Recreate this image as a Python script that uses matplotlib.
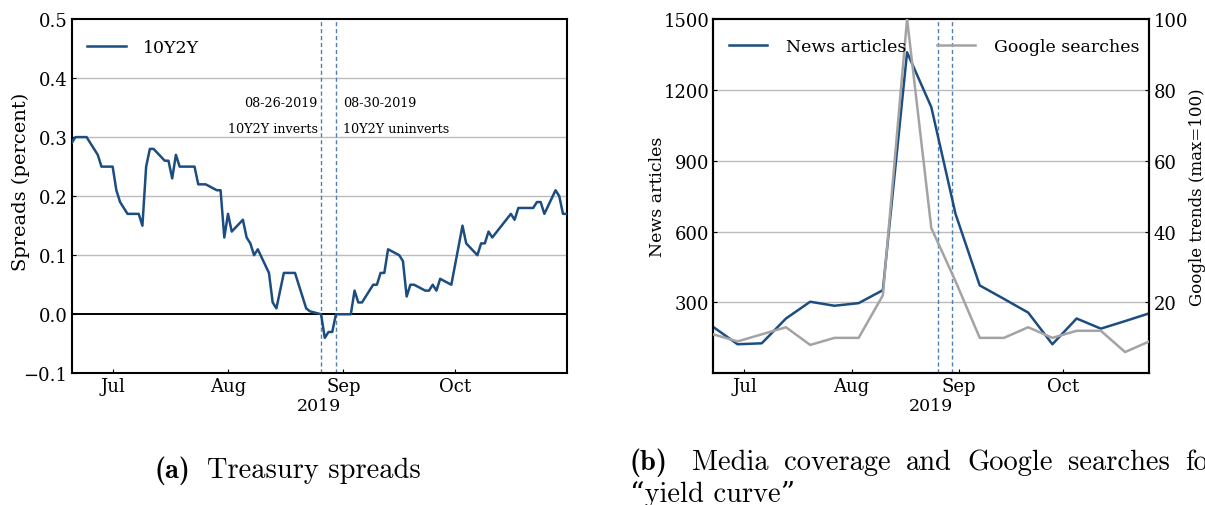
import matplotlib
matplotlib.use('Agg')
import matplotlib.pyplot as plt
import matplotlib.dates as mdates
import numpy as np
import pandas as pd

# 10Y2Y Treasury spread (percent), daily
spread_dates = ['2019-06-20', '2019-06-21', '2019-06-24', '2019-06-25', '2019-06-26',
                '2019-06-27', '2019-06-28', '2019-07-01', '2019-07-02', '2019-07-03',
                '2019-07-05', '2019-07-08', '2019-07-09', '2019-07-10', '2019-07-11',
                '2019-07-12', '2019-07-15', '2019-07-16', '2019-07-17', '2019-07-18',
                '2019-07-19', '2019-07-22', '2019-07-23', '2019-07-24', '2019-07-25',
                '2019-07-26', '2019-07-29', '2019-07-30', '2019-07-31', '2019-08-01',
                '2019-08-02', '2019-08-05', '2019-08-06', '2019-08-07', '2019-08-08',
                '2019-08-09', '2019-08-12', '2019-08-13', '2019-08-14', '2019-08-16',
                '2019-08-19', '2019-08-22', '2019-08-23', '2019-08-26', '2019-08-27',
                '2019-08-28', '2019-08-29', '2019-08-30', '2019-09-03', '2019-09-04',
                '2019-09-05', '2019-09-06', '2019-09-09', '2019-09-10', '2019-09-11',
                '2019-09-12', '2019-09-13', '2019-09-16', '2019-09-17', '2019-09-18',
                '2019-09-19', '2019-09-20', '2019-09-23', '2019-09-24', '2019-09-25',
                '2019-09-26', '2019-09-27', '2019-09-30', '2019-10-03', '2019-10-04',
                '2019-10-07', '2019-10-08', '2019-10-09', '2019-10-10', '2019-10-11',
                '2019-10-16', '2019-10-17', '2019-10-18', '2019-10-21', '2019-10-22',
                '2019-10-23', '2019-10-24', '2019-10-25', '2019-10-28', '2019-10-29',
                '2019-10-30', '2019-10-31']
spread_vals = [0.29, 0.30, 0.30, 0.29, 0.28,
               0.27, 0.25, 0.25, 0.21, 0.19,
               0.17, 0.17, 0.15, 0.25, 0.28,
               0.28, 0.26, 0.26, 0.23, 0.27,
               0.25, 0.25, 0.25, 0.22, 0.22,
               0.22, 0.21, 0.21, 0.13, 0.17,
               0.14, 0.16, 0.13, 0.12, 0.10,
               0.11, 0.07, 0.02, 0.01, 0.07,
               0.07, 0.01, 0.005, 0.00, -0.04,
               -0.03, -0.03, 0.00, 0.00, 0.04,
               0.02, 0.02, 0.05, 0.05, 0.07,
               0.07, 0.11, 0.10, 0.09, 0.03,
               0.05, 0.05, 0.04, 0.04, 0.05,
               0.04, 0.06, 0.05, 0.15, 0.12,
               0.10, 0.12, 0.12, 0.14, 0.13,
               0.17, 0.16, 0.18, 0.18, 0.18,
               0.19, 0.19, 0.17, 0.21, 0.20,
               0.17, 0.17]

# weekly media coverage and search interest
week_dates = pd.date_range('2019-06-22', periods=19, freq='7D')
news_articles = [196, 123, 127, 232, 303, 286, 297, 352, 1359, 1127,
                 675, 372, 315, 257, 123, 232, 189, 221, 254]
google_searches = [11, 9, 11, 13, 8, 10, 10, 22, 100, 41,
                   26, 10, 10, 13, 10, 12, 12, 6, 9]

event_dates = ['2019-08-26', '2019-08-30']
event_labels = [('08-26-2019', '10Y2Y inverts'), ('08-30-2019', '10Y2Y uninverts')]

blue = '#1c4d80'
gray = '#a3a3a3'
dash_col = '#4d7fb3'

plt.rcParams['font.family'] = ['DejaVu Serif']
plt.rcParams['axes.unicode_minus'] = True

W, H = 1205, 506
fig = plt.figure(figsize=(W / 100, H / 100), dpi=100)


def style_axes(ax):
    for sp in ax.spines.values():
        sp.set_linewidth(1.5)
        sp.set_color('black')
    ax.tick_params(direction='in', length=3, width=0.8, labelsize=13, pad=3)
    ax.xaxis.set_major_locator(mdates.MonthLocator())
    ax.xaxis.set_major_formatter(mdates.DateFormatter('%b'))
    ax.set_xlabel('2019', fontsize=12.5, labelpad=1)


# (a) spreads
s_dates = pd.to_datetime(spread_dates)
ev = pd.to_datetime(event_dates)

ax1 = fig.add_axes([71.7 / W, 1 - 374.3 / H, 495 / W, 354.3 / H])
style_axes(ax1)
ax1.set_ylim(-0.1, 0.5)
ax1.set_yticks(np.arange(-0.1, 0.51, 0.1))
ax1.set_yticklabels(['\u22120.1', '0.0', '0.1', '0.2', '0.3', '0.4', '0.5'])
ax1.set_xlim(s_dates[0], s_dates[-1])
for yv in [0.1, 0.2, 0.3, 0.4]:
    ax1.axhline(yv, color='#bcbcbc', lw=1.0, zorder=1)
ax1.axhline(0, color='black', lw=1.4, zorder=1)
ax1.plot(s_dates, spread_vals, color=blue, lw=1.8, label='10Y2Y', zorder=3)
for d in ev:
    ax1.axvline(d, color=dash_col, lw=1.0, ls=(0, (3, 2)), zorder=2)
ax1.set_ylabel('Spreads (percent)', fontsize=14)
ax1.yaxis.set_label_coords(-0.084, 0.543)
ax1.legend(loc='upper left', frameon=False, fontsize=12.5, handlelength=2.2,
           handletextpad=1.0, bbox_to_anchor=(0.0, 0.988))

for d, (l1, l2), ha, off in zip(ev, event_labels, ['right', 'left'], [-3.5, 7.5]):
    x = mdates.date2num(d) + off / 3.72
    ax1.text(x, 0.358, l1, ha=ha, va='center', fontsize=9.2)
    ax1.text(x, 0.315, l2, ha=ha, va='center', fontsize=9.2)

# (b) news articles and google trends
ax2 = fig.add_axes([713.3 / W, 1 - 374.3 / H, 436 / W, 354.3 / H])
style_axes(ax2)
ax2.set_ylim(0, 1500)
ax2.set_yticks([300, 600, 900, 1200, 1500])
ax2.set_xlim(week_dates[0], week_dates[-1])
for yv in [300, 600, 900, 1200]:
    ax2.axhline(yv, color='#bcbcbc', lw=1.0, zorder=1)
for d in ev:
    ax2.axvline(d, color=dash_col, lw=1.0, ls=(0, (3, 2)), zorder=2)
l_news, = ax2.plot(week_dates, news_articles, color=blue, lw=1.8, label='News articles', zorder=3)
ax2.set_ylabel('News articles', fontsize=12.5)
ax2.yaxis.set_label_coords(-0.108, 0.5)

ax3 = ax2.twinx()
for sp in ax3.spines.values():
    sp.set_linewidth(1.5)
ax3.set_ylim(0, 100)
ax3.set_yticks([20, 40, 60, 80, 100])
ax3.tick_params(direction='in', length=3, width=0.8, labelsize=13, pad=3)
l_goog, = ax3.plot(week_dates, google_searches, color=gray, lw=1.8, label='Google searches', zorder=3)
ax3.set_ylabel('Google trends (max=100)', fontsize=12, labelpad=1)
ax3.legend(handles=[l_news, l_goog], loc='upper left', ncol=2, frameon=False,
           fontsize=12.5, handlelength=2.2, handletextpad=1.1, columnspacing=1.75,
           bbox_to_anchor=(0.0, 0.99))

# captions
cm = ['cmr10', 'DejaVu Serif']
cmb = ['cmb10', 'DejaVu Serif']
cap_size = 20.5
base_a = 1 - 478 / H
fig.text(155 / W, base_a, '(a)', family=cmb, fontsize=cap_size, va='baseline')
fig.text(207 / W, base_a, 'Treasury spreads', family=cm, fontsize=cap_size, va='baseline')

base_b = 1 - 470 / H
fig.text(630 / W, base_b, '(b)', family=cmb, fontsize=cap_size, va='baseline')
words = ['Media', 'coverage', 'and', 'Google', 'searches', 'for']
word_x = [692, 784, 906, 967, 1068, 1185]
for wd, wx in zip(words, word_x):
    fig.text(wx / W, base_b, wd, family=cm, fontsize=cap_size, va='baseline')
fig.text(630 / W, 1 - 502 / H, '\u201cyield curve\u201d', family=cm, fontsize=cap_size, va='baseline')

fig.savefig('out.png', dpi=100)
